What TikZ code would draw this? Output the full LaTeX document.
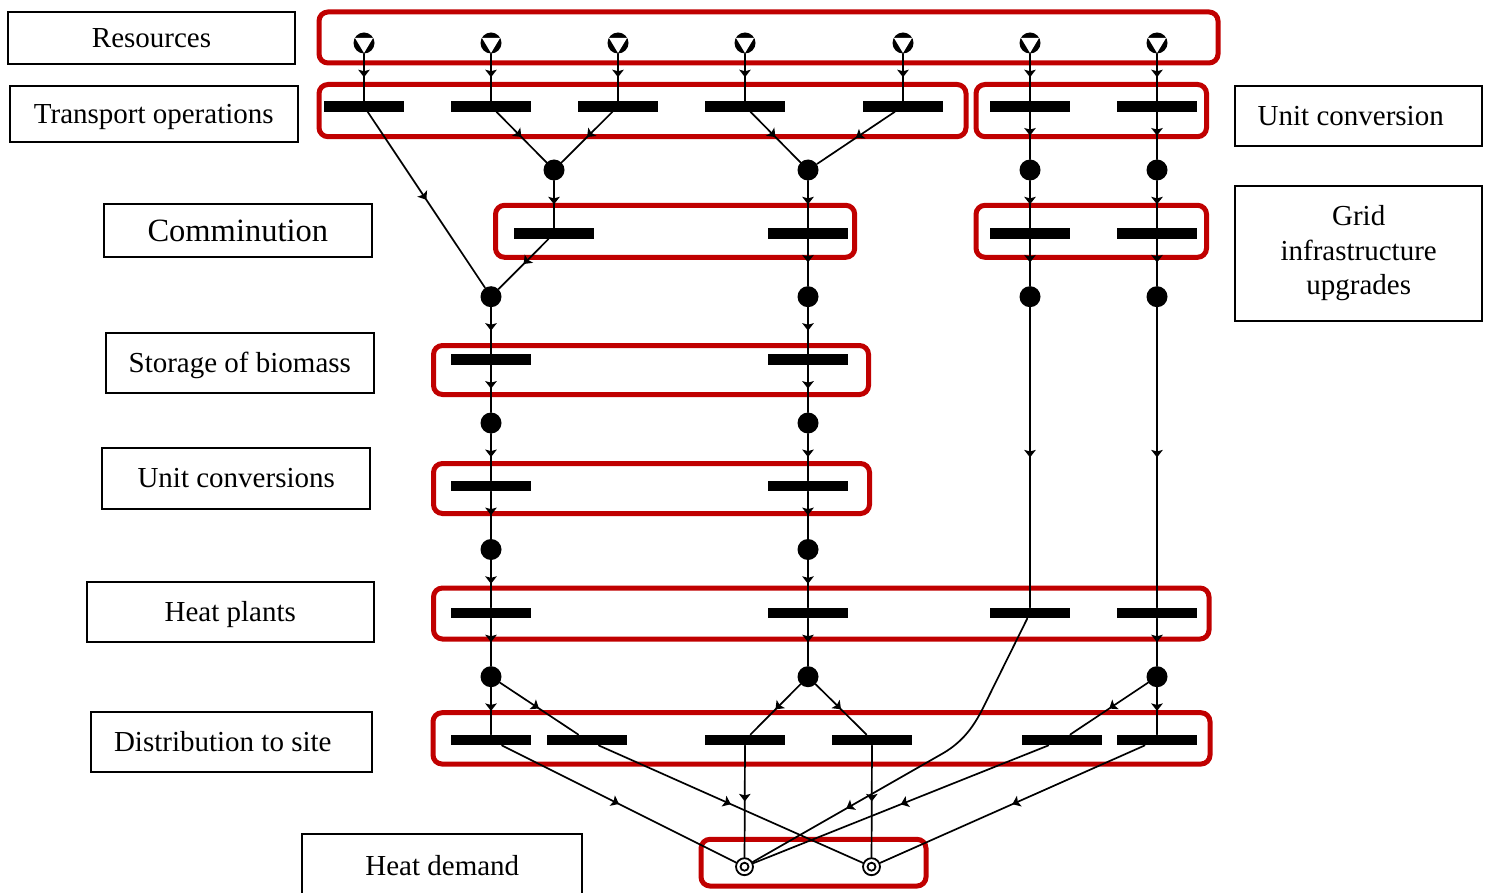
\documentclass[tikz,border=0pt]{standalone}
\usepackage{fontspec}
\setmainfont{Liberation Serif}
\usetikzlibrary{arrows.meta,decorations.markings}
\definecolor{grpred}{RGB}{192,0,0}

\begin{document}
\begin{tikzpicture}[x=1pt,y=-1pt,
  font=\fontsize{29}{33}\selectfont,
  grp/.style={draw=grpred, line width=5pt, rounded corners=9pt},
  lbl/.style={draw, line width=2.2pt, inner sep=0pt, text height=19pt, text depth=0pt},
  mlbl/.style={draw, line width=2.2pt, inner sep=0pt, align=center},
  bar/.style={fill=black, inner sep=0pt, minimum width=80pt, minimum height=10.6pt},
  jn/.style={circle, fill=black, inner sep=0pt, minimum size=21pt},
  res/.style={circle, fill=black, inner sep=0pt, minimum size=21pt,
    path picture={\fill[white]
      ([shift={(-9pt,5pt)}]path picture bounding box.center) --
      ([shift={(9pt,5pt)}]path picture bounding box.center) --
      ([shift={(0pt,-10pt)}]path picture bounding box.center) -- cycle;}},
  dem/.style={circle, draw, fill=white, line width=1.8pt, inner sep=0pt, minimum size=17pt,
    path picture={\draw[line width=1.8pt] (path picture bounding box.center) circle[radius=4pt];}},
  wire/.style={draw, line width=1.7pt, line cap=round},
  flow/.style={wire, postaction={decorate},
    decoration={markings, mark=at position 0.5 with {\arrow{Stealth[length=7.5pt,width=11.5pt,inset=1.5pt]}}}}
]
\useasboundingbox (0,0) rectangle (1491,893);

% stage groups
\draw[grp] (319,12) rectangle (1218,63);
\draw[grp] (319,84.5) rectangle (966,136.7);
\draw[grp] (976,84.5) rectangle (1206.5,136.7);
\draw[grp] (495.5,205.3) rectangle (854.7,257.3);
\draw[grp] (976,205.3) rectangle (1206.5,257.3);
\draw[grp] (433.5,345.5) rectangle (868.5,394.5);
\draw[grp] (433.5,463.5) rectangle (869.5,513.5);
\draw[grp] (433.5,588) rectangle (1209,639);
\draw[grp] (433,712.7) rectangle (1210,764);
\draw[grp] (701,839.3) rectangle (926,886);

% stage labels
\node[lbl, minimum width=287pt, minimum height=52pt] (lres) at (151.5,38) {Resources};
\node[lbl, minimum width=287.7pt, minimum height=55.7pt] (ltra) at (153.8,113.8) {Transport operations};
\node[lbl, minimum width=267.7pt, minimum height=53pt, font=\fontsize{32.5}{36}\selectfont, text height=21pt] (lcom) at (237.8,230.8) {Comminution};
\node[lbl, minimum width=268.3pt, minimum height=60pt] (lsto) at (239.8,363.3) {Storage of biomass};
\node[lbl, minimum width=267.7pt, minimum height=61pt] (luni) at (236.2,478.2) {Unit conversions};
\node[lbl, minimum width=287.3pt, minimum height=60.6pt] (lhea) at (230.3,612) {Heat plants};
\node[lbl, minimum width=280.7pt, minimum height=60.6pt] (ldis) at (231.3,742) {Distribution to site\hspace*{17pt}};
\node[lbl, minimum width=280pt, minimum height=64pt] (ldem) at (442.3,866) {Heat demand};
\node[lbl, minimum width=247.3pt, minimum height=60pt] (lucv) at (1358.7,116) {Unit conversion\hspace*{16pt}};
\node[mlbl, minimum width=247.3pt, minimum height=135pt, font=\fontsize{29}{34.5}\selectfont] (lgrd) at (1358.7,253.5) {Grid\\infrastructure\\upgrades\vphantom{g}\rule[-1pt]{0pt}{1pt}};

% resources
\node[res] (r1) at (364,43) {};
\node[res] (r2) at (491,43) {};
\node[res] (r3) at (618,43) {};
\node[res] (r4) at (745,43) {};
\node[res] (r5) at (903,43) {};
\node[res] (r6) at (1030,43) {};
\node[res] (r7) at (1157,43) {};

% transport operations and unit conversion
\node[bar] (t1) at (364,106.3) {};
\node[bar] (t2) at (491,106.3) {};
\node[bar] (t3) at (618,106.3) {};
\node[bar] (t4) at (745,106.3) {};
\node[bar] (t5) at (903,106.3) {};
\node[bar] (t6) at (1030,106.3) {};
\node[bar] (t7) at (1157,106.3) {};

\node[jn] (j1a) at (554,170) {};
\node[jn] (j1b) at (808,170) {};
\node[jn] (j1c) at (1030,170) {};
\node[jn] (j1d) at (1157,170) {};

% comminution and grid upgrades
\node[bar] (c1) at (554,233.5) {};
\node[bar] (c2) at (808,233.5) {};
\node[bar] (c3) at (1030,233.5) {};
\node[bar] (c4) at (1157,233.5) {};

\node[jn] (j2a) at (491,296.7) {};
\node[jn] (j2b) at (808,296.7) {};
\node[jn] (j2c) at (1030,296.7) {};
\node[jn] (j2d) at (1157,296.7) {};

% storage
\node[bar] (s1) at (491,359.5) {};
\node[bar] (s2) at (808,359.5) {};
\node[jn] (j3a) at (491,423) {};
\node[jn] (j3b) at (808,423) {};

% unit conversions
\node[bar] (u1) at (491,486) {};
\node[bar] (u2) at (808,486) {};
\node[jn] (j4a) at (491,549.5) {};
\node[jn] (j4b) at (808,549.5) {};

% heat plants
\node[bar] (h1) at (491,613) {};
\node[bar] (h2) at (808,613) {};
\node[bar] (h3) at (1030,613) {};
\node[bar] (h4) at (1157,613) {};

\node[jn] (j5a) at (491,676.7) {};
\node[jn] (j5b) at (808,676.7) {};
\node[jn] (j5c) at (1157,676.7) {};

% distribution
\node[bar] (d1) at (491,740) {};
\node[bar] (d2) at (586.5,740) {};
\node[bar] (d3) at (745,740) {};
\node[bar] (d4) at (872,740) {};
\node[bar] (d5) at (1062,740) {};
\node[bar] (d6) at (1157,740) {};

% demand
\node[dem] (e1) at (744.5,866.7) {};
\node[dem] (e2) at (871.5,866.7) {};

% flows
\draw[flow] (r1) -- (t1);
\draw[flow] (r2) -- (t2);
\draw[flow] (r3) -- (t3);
\draw[flow] (r4) -- (t4);
\draw[flow] (r5) -- (t5);
\draw[flow] (r6) -- (t6);
\draw[flow] (r7) -- (t7);

\draw[flow] (t1) -- (j2a);
\draw[flow] (t2) -- (j1a);
\draw[flow] (t3) -- (j1a);
\draw[flow] (t4) -- (j1b);
\draw[flow] (t5) -- (j1b);
\draw[flow] (t6) -- (j1c);
\draw[flow] (t7) -- (j1d);

\draw[flow] (j1a) -- (c1);
\draw[flow] (j1b) -- (c2);
\draw[flow] (j1c) -- (c3);
\draw[flow] (j1d) -- (c4);

\draw[flow] (c1) -- (j2a);
\draw[flow] (c2) -- (j2b);
\draw[flow] (c3) -- (j2c);
\draw[flow] (c4) -- (j2d);

\draw[flow] (j2a) -- (s1);
\draw[flow] (j2b) -- (s2);
\draw[flow] (s1) -- (j3a);
\draw[flow] (s2) -- (j3b);
\draw[flow] (j3a) -- (u1);
\draw[flow] (j3b) -- (u2);
\draw[flow] (u1) -- (j4a);
\draw[flow] (u2) -- (j4b);
\draw[flow] (j4a) -- (h1);
\draw[flow] (j4b) -- (h2);
\draw[flow] (j2c) -- (h3);
\draw[flow] (j2d) -- (h4);

\draw[flow] (h1) -- (j5a);
\draw[flow] (h2) -- (j5b);
\draw[flow] (h4) -- (j5c);

\draw[flow] (j5a) -- (d1);
\draw[flow] (j5a) -- (d2);
\draw[flow] (j5b) -- (d3);
\draw[flow] (j5b) -- (d4);
\draw[flow] (j5c) -- (d5);
\draw[flow] (j5c) -- (d6);

\draw[flow] (d1) -- (e1);
\draw[flow] (d2) -- (e2);
\draw[flow] (d3) -- (e1);
\draw[flow] (d4) -- (e2);
\draw[flow] (d5) -- (e1);
\draw[flow] (d6) -- (e2);

% direct electricity route from the heat plant to demand
\coordinate (k1) at (983,708);
\coordinate (k2) at (940,755);
\draw[wire] (h3) -- (k1) .. controls (972,730) and (960,744) .. (k2);
\draw[flow] (k2) -- (e1);
\end{tikzpicture}
\end{document}
